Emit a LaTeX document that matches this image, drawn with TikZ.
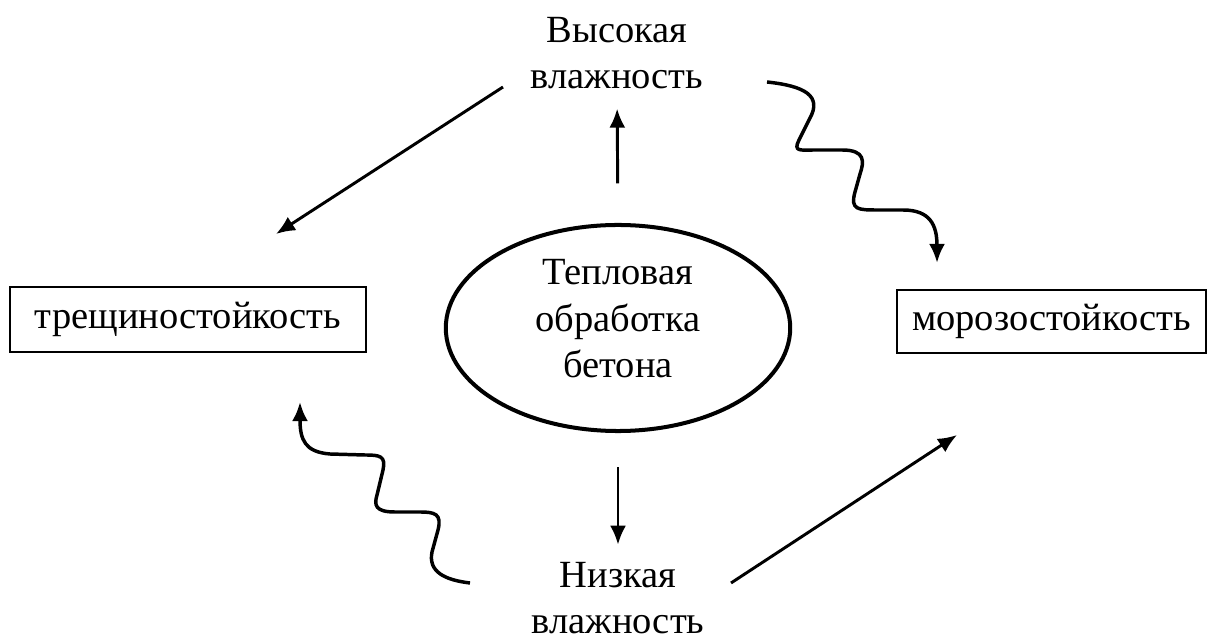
\documentclass[tikz,border=0pt]{standalone}
\usepackage{fontspec}
\setmainfont{Liberation Serif}
\usetikzlibrary{shapes.geometric}
\usetikzlibrary{arrows.meta}
\tikzset{
	txt/.style={font=\fontsize{14.4}{17.4}\selectfont, align=center, inner sep=0pt},
	propbox/.style={txt, draw, line width=0.8pt, rectangle},
	arr/.style={line width=1.1pt, -{Latex[length=0.25cm, width=0.21cm]}},
	wavearr/.style={line width=1.3pt, -{Latex[length=0.25cm, width=0.21cm]}}
}

\begin{document}
\begin{tikzpicture}[x=0.013158cm, y=-0.013158cm]
\useasboundingbox (0,0) rectangle (1216,642);

% center
\node[draw, ellipse, line width=1.5pt, minimum width=4.53cm, minimum height=2.71cm] (heat) at (618,328) {};
\node[txt] (heattxt) at (618,319) {Тепловая\\обработка\\бетона};

% humidity
\node[txt] (high) at (617,53) {Высокая\\влажность};
\node[txt] (low) at (618,598) {Низкая\\влажность};

% properties
\node[propbox, minimum width=4.685cm, minimum height=0.855cm] (crack) at (188,319.5) {трещиностойкость};
\node[propbox, minimum width=4.066cm, minimum height=0.829cm] (frost) at (1051.5,321.5) {морозостойкость};

% vertical arrows
\draw[arr, shorten <=0.52cm, shorten >=0.25cm] (heat.north) -- (high.south);
\draw[arr, shorten <=0.45cm, shorten >=0.22cm] (heat.south) -- (low.north);

% straight arrows
\coordinate (hs) at (503,87);
\coordinate (ct) at (276,234);
\coordinate (ls) at (731,583);
\coordinate (ft) at (957,435);
\draw[arr] (hs) -- (ct);
\draw[arr] (ls) -- (ft);

% wavy arrows
\coordinate (hw) at (767,82);
\coordinate (fw) at (937,263);
\draw[wavearr] (hw) .. controls (805,86) and (822,96) .. (810,118) -- (799,140)
	.. controls (793,152) and (800,150) .. (815,150) -- (842,150)
	.. controls (866,150) and (864,162) .. (860,174) -- (855,192)
	.. controls (850,210) and (858,210) .. (878,210) -- (903,210)
	.. controls (930,210) and (937,225) .. (fw);

\coordinate (lw) at (470,583);
\coordinate (cw) at (300,402);
\draw[wavearr] (lw) .. controls (445,580) and (428,572) .. (432,552) -- (438,530)
	.. controls (442,514) and (435,512) .. (420,512) -- (395,512)
	.. controls (375,512) and (374,505) .. (377,495) -- (383,470)
	.. controls (386,456) and (380,455) .. (365,455) -- (330,454)
	.. controls (305,452) and (300,440) .. (cw);
\end{tikzpicture}
\end{document}
